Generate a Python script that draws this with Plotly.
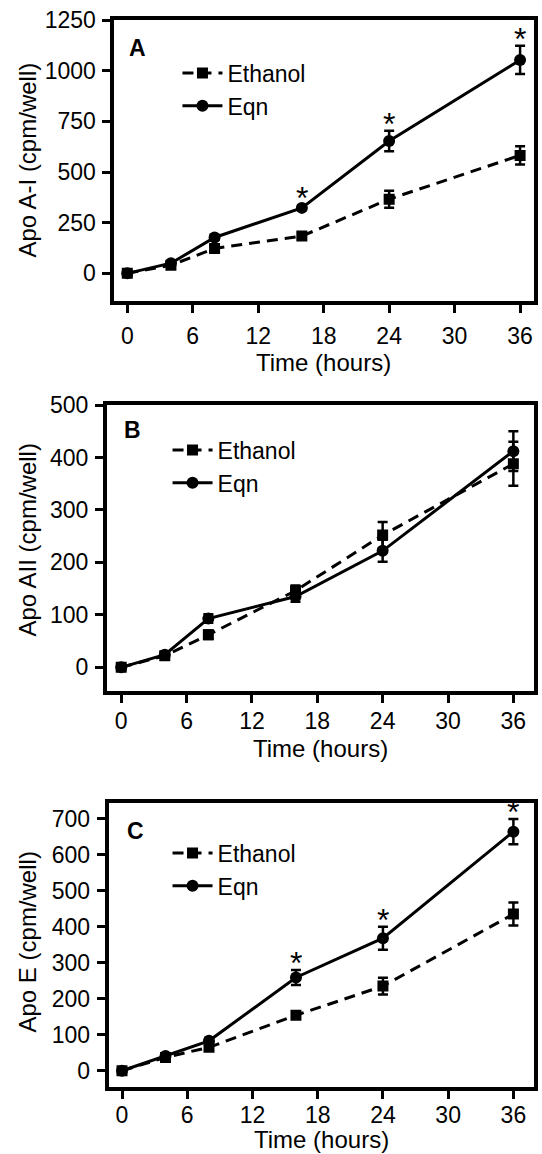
import plotly.graph_objects as go

# ---------------- data ----------------
time_h = [0, 4, 8, 16, 24, 36]
x_ticks = [0, 6, 12, 18, 24, 30, 36]

# Panel A : Apo A-I
apoa1_eth = [0, 40, 123, 184, 366, 582]
apoa1_eth_err = [0, 8, 12, 12, 42, 45]
apoa1_eqn = [0, 50, 177, 323, 653, 1053]
apoa1_eqn_err = [0, 8, 12, 12, 50, 70]
apoa1_sig = [16, 24, 36]
apoa1_yticks = [0, 250, 500, 750, 1000, 1250]

# Panel B : Apo AII
apoa2_eth = [0, 22, 62, 146, 252, 388]
apoa2_eth_err = [0, 5, 8, 10, 25, 42]
apoa2_eqn = [0, 24, 93, 135, 222, 412]
apoa2_eqn_err = [0, 5, 8, 10, 21, 38]
apoa2_sig = []
apoa2_yticks = [0, 100, 200, 300, 400, 500]

# Panel C : Apo E
apoe_eth = [0, 37, 65, 154, 235, 435]
apoe_eth_err = [0, 5, 8, 8, 23, 32]
apoe_eqn = [0, 41, 83, 259, 368, 664]
apoe_eqn_err = [0, 5, 8, 21, 32, 35]
apoe_sig = [16, 24, 36]
apoe_yticks = [0, 100, 200, 300, 400, 500, 600, 700]

series_names = ["Ethanol", "Eqn"]
panel_letters = ["A", "B", "C"]
y_titles = ["Apo A-I (cpm/well)", "Apo AII (cpm/well)", "Apo E (cpm/well)"]
x_title = "Time (hours)"

# ---------------- styling / layout ----------------
FONT = "Arial, 'Liberation Sans', Helvetica, sans-serif"
FS = 23
FS_T = 24
BLACK = "#000000"

W, H = 542, 1154
ML, MR, MT, MB = 100, 4, 18, 66
PW, PH = W - ML - MR, H - MT - MB


def fx(px):
    return (px - ML) / PW


def fy(py):
    return (H - MB - py) / PH


# pixel geometry of each panel (plot box, labels, legend)
panels = [
    dict(eth=apoa1_eth, eth_err=apoa1_eth_err, eqn=apoa1_eqn, eqn_err=apoa1_eqn_err,
         sig=apoa1_sig, yticks=apoa1_yticks,
         box=(114.5, 536.5, 20, 300.5), xrange=[-1.18, 37.23], yrange=[-134, 1250],
         xlab_shift=4, letter=(137.5, 47.5), xtitle_y=362.7, ytitle_y=160,
         leg=(178, 51.5)),
    dict(eth=apoa2_eth, eth_err=apoa2_eth_err, eqn=apoa2_eqn, eqn_err=apoa2_eqn_err,
         sig=apoa2_sig, yticks=apoa2_yticks,
         box=(107, 536.5, 405, 691.3), xrange=[-1.31, 37.85], yrange=[-45.7, 500],
         xlab_shift=-2, letter=(133, 430), xtitle_y=748, ytitle_y=540,
         leg=(168, 428.5)),
    dict(eth=apoe_eth, eth_err=apoe_eth_err, eqn=apoe_eqn, eqn_err=apoe_eqn_err,
         sig=apoe_sig, yticks=apoe_yticks,
         box=(108.7, 536.5, 803, 1086.7), xrange=[-1.23, 37.85], yrange=[-44.4, 743.6],
         xlab_shift=-3, letter=(135.5, 831), xtitle_y=1139, ytitle_y=942,
         leg=(168, 831.5)),
]

fig = go.Figure()
annotations = []
layout_axes = {}

for i, p in enumerate(panels):
    n = "" if i == 0 else str(i + 1)
    xa, ya = "x" + n, "y" + n
    legname = "legend" + n
    x0, x1, y0, y1 = p["box"]

    fig.add_trace(go.Scatter(
        x=time_h, y=p["eth"], name=series_names[0], mode="lines+markers",
        xaxis=xa, yaxis=ya, legend=legname,
        line=dict(color=BLACK, width=3, dash="11px,7px"),
        marker=dict(symbol="square", size=11, color=BLACK),
        error_y=dict(type="data", array=p["eth_err"], visible=True,
                     color=BLACK, thickness=2.5, width=5),
    ))
    fig.add_trace(go.Scatter(
        x=time_h, y=p["eqn"], name=series_names[1], mode="lines+markers",
        xaxis=xa, yaxis=ya, legend=legname,
        line=dict(color=BLACK, width=3),
        marker=dict(symbol="circle", size=12, color=BLACK),
        error_y=dict(type="data", array=p["eqn_err"], visible=True,
                     color=BLACK, thickness=2.5, width=5),
    ))

    # significance asterisks above the Eqn error bars
    for t in p["sig"]:
        k = time_h.index(t)
        annotations.append(dict(
            x=t, y=p["eqn"][k] + p["eqn_err"][k], xref=xa, yref=ya,
            text="*", showarrow=False, yanchor="middle", yshift=7,
            font=dict(family=FONT, size=32, color=BLACK)))

    # panel letter
    annotations.append(dict(
        x=fx(p["letter"][0]), y=fy(p["letter"][1]), xref="paper", yref="paper",
        text="<b>%s</b>" % panel_letters[i], showarrow=False,
        xanchor="center", yanchor="middle",
        font=dict(family=FONT, size=23, color=BLACK)))

    # axis titles
    annotations.append(dict(
        x=0.5, y=fy(p["xtitle_y"]), xref=xa + " domain", yref="paper",
        text=x_title, showarrow=False, xanchor="center", yanchor="middle",
        font=dict(family=FONT, size=FS_T, color=BLACK)))
    annotations.append(dict(
        x=fx(26), y=fy(p["ytitle_y"]), xref="paper", yref="paper",
        text=y_titles[i], textangle=-90, showarrow=False,
        xanchor="center", yanchor="middle",
        font=dict(family=FONT, size=FS_T, color=BLACK)))

    layout_axes["xaxis" + n] = dict(
        domain=[fx(x0), fx(x1)], anchor=ya, range=p["xrange"],
        tickmode="array", tickvals=x_ticks, ticks="outside", ticklen=8,
        tickwidth=3, tickcolor=BLACK, showline=True, linewidth=4,
        linecolor=BLACK, mirror=True, showgrid=False, zeroline=False,
        ticklabelstandoff=p["xlab_shift"],
        tickfont=dict(family=FONT, size=FS, color=BLACK),
    )
    layout_axes["yaxis" + n] = dict(
        domain=[fy(y1), fy(y0)], anchor=xa, range=p["yrange"],
        tickmode="array", tickvals=p["yticks"], ticks="outside", ticklen=8,
        tickwidth=3, tickcolor=BLACK, showline=True, linewidth=4,
        linecolor=BLACK, mirror=True, showgrid=False, zeroline=False,
        ticklabelstandoff=2,
        tickfont=dict(family=FONT, size=FS, color=BLACK),
    )
    layout_axes[legname] = dict(
        x=fx(p["leg"][0]), y=fy(p["leg"][1]), xanchor="left", yanchor="top",
        bgcolor="rgba(0,0,0,0)", borderwidth=0, itemwidth=40,
        font=dict(family=FONT, size=FS, color=BLACK),
        tracegroupgap=0,
    )

fig.update_layout(
    width=W, height=H,
    margin=dict(l=ML, r=MR, t=MT, b=MB),
    paper_bgcolor="white", plot_bgcolor="white",
    showlegend=True,
    annotations=annotations,
    font=dict(family=FONT, size=FS, color=BLACK),
    **layout_axes,
)

# remove the browser's default 8px page margin so the figure sits at (0, 0)
fig.write_html(
    "out.html",
    config={"displayModeBar": False},
    post_script="document.body.style.margin='0';document.body.style.overflow='hidden';",
)
